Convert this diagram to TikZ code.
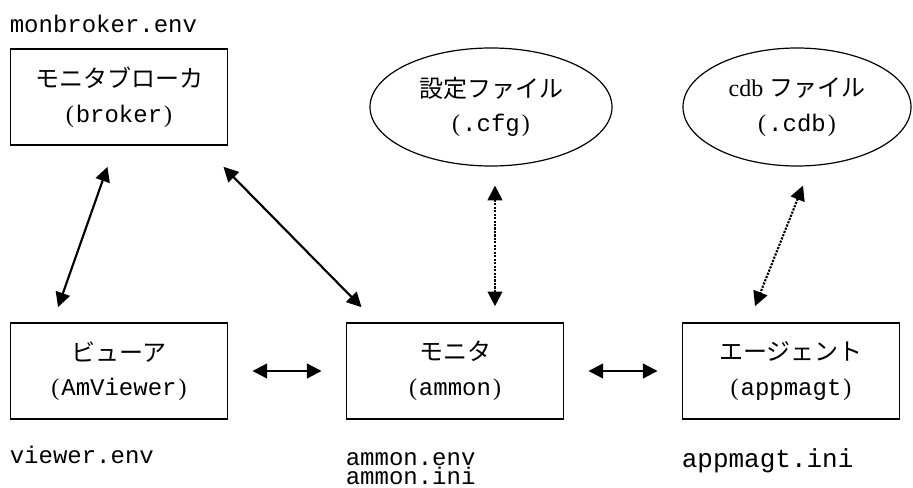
\documentclass[tikz,border=0pt]{standalone}
\usepackage{fontspec}
\setmainfont{Liberation Serif}
\setmonofont{Liberation Mono}
\newfontfamily\jpfont{Noto Sans CJK JP}
\usetikzlibrary{positioning, arrows.meta, shapes.geometric, calc}
\newcommand{\prog}[1]{\makebox[0.5em]{(}\texttt{#1}\makebox[0.5em]{)}}

\begin{document}
\begin{tikzpicture}[x=0.75pt, y=-0.75pt, node distance=252pt, on grid,
    box/.style={draw, line width=1.2pt, minimum width=163pt, minimum height=72pt,
      inner sep=0pt, align=center, font=\fontsize{18pt}{26pt}\selectfont},
    store/.style={draw, ellipse, line width=0.9pt, minimum width=181.5pt,
      minimum height=88.5pt, inner sep=0pt, align=center,
      font=\fontsize{18pt}{26pt}\selectfont},
    fname/.style={font=\ttfamily\fontsize{18pt}{14.6pt}\selectfont, inner sep=0pt},
    link/.style={line width=1.6pt, <->, >={Triangle[length=11pt,width=11pt]}},
    dotlink/.style={link, densely dotted}]
  \useasboundingbox (0,0) rectangle (913,488);

  \node[box] (viewer) at (119,371) {{\jpfont ビューア}\\\prog{AmViewer}};
  \node[box] (mon) [right=of viewer] {{\jpfont モニタ}\\\prog{ammon}};
  \node[box] (agent) [right=of mon] {{\jpfont エージェント}\\\prog{appmagt}};
  \node[box] (broker) [above=205.5pt of viewer] {{\jpfont モニタブローカ}\\\prog{broker}};
  \node[store] (cfg) [above right=198pt and 27pt of mon] {{\jpfont 設定ファイル}\\\prog{.cfg}};
  \node[store, minimum width=171pt] (cdb) [above right=198pt and 4.5pt of agent] {cdb {\jpfont ファイル}\\\prog{.cdb}};

  % file names
  \node[fname, above=12pt of broker.north west, anchor=base west] (brokerenv) {monbroker.env};
  \node[fname, below=33pt of viewer.south west, anchor=base west] (viewerenv) {viewer.env};
  \node[fname, align=left, below=48.75pt of mon.south west, anchor=base west] (ammonenv) {ammon.env\\ammon.ini};
  \node[fname, font=\ttfamily\fontsize{19.5pt}{20pt}\selectfont,
    below=36pt of agent.south west, anchor=base west] (agentini) {appmagt.ini};

  \path[link]
    ($(broker.south)+(-11.5,21)$) edge ($(viewer.north)+(-61,-15)$)
    ($(broker.south east)+(-5,21)$) edge ($(mon.north west)+(16,-15)$)
    ($(viewer.east)+(24,0)$) edge ($(mon.west)+(-24,0)$)
    ($(mon.east)+(24,0)$) edge ($(agent.west)+(-24,0)$);
  \path[dotlink]
    ($(cfg.south)+(4,19)$) edge ($(mon.north)+(40,-16)$)
    ($(cdb.south)+(6,19)$) edge ($(agent.north)+(-36,-16)$);
\end{tikzpicture}
\end{document}
